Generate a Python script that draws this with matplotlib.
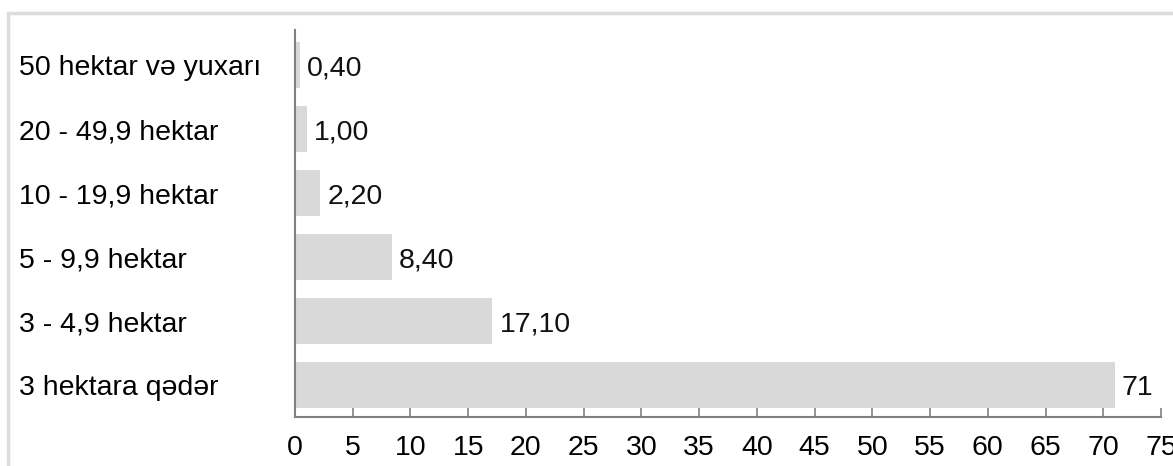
import matplotlib
matplotlib.use("Agg")
import matplotlib.pyplot as plt
from matplotlib.patches import Rectangle

plt.rcParams['font.family'] = ['Liberation Sans', 'DejaVu Sans']

# data
categories = ['3 hektara qədər', '3 - 4,9 hektar', '5 - 9,9 hektar',
              '10 - 19,9 hektar', '20 - 49,9 hektar', '50 hektar və yuxarı']
values = [71, 17.1, 8.4, 2.2, 1.0, 0.4]
value_labels = ['71', '17,10', '8,40', '2,20', '1,00', '0,40']
xticks = list(range(0, 80, 5))

fs = 20.5

fig = plt.figure(figsize=(11.73, 4.66), dpi=100)
ax = fig.add_axes([295/1173, 1 - 417/466, (1161 - 295)/1173, (417 - 30)/466])

ypos = range(len(categories))
ax.barh(ypos, values, height=0.72, color='#d9d9d9', zorder=2)

for y, v, lab in zip(ypos, values, value_labels):
    ax.annotate(lab, (v, y), xytext=(5, 0), textcoords='offset points',
                ha='left', va='center_baseline', fontsize=fs, color='#111111')

ax.set_xlim(0, 75)
ax.set_ylim(-0.5, 5.55)
ax.set_xticks(xticks)
ax.set_xticklabels([str(t) for t in xticks], fontsize=fs)
ax.set_yticks(list(ypos))
ax.set_yticklabels(categories, fontsize=fs)
for lab in ax.get_yticklabels():
    lab.set_horizontalalignment('left')
    lab.set_verticalalignment('center_baseline')
ax.tick_params(axis='y', length=0, pad=199)
ax.tick_params(axis='x', direction='in', length=6.5, width=1.2,
               color='#808080', pad=13)

for s in ['top', 'right']:
    ax.spines[s].set_visible(False)
for s in ['left', 'bottom']:
    ax.spines[s].set_color('#808080')
    ax.spines[s].set_linewidth(1.5)

# outer frame
fig.patches.append(Rectangle((8/1173, -0.1), 1.1, 1 - 13/466 + 0.1,
                             transform=fig.transFigure, fill=False,
                             edgecolor='#dcdcdc', linewidth=2.5, zorder=0))

fig.savefig('out.png', dpi=100)
